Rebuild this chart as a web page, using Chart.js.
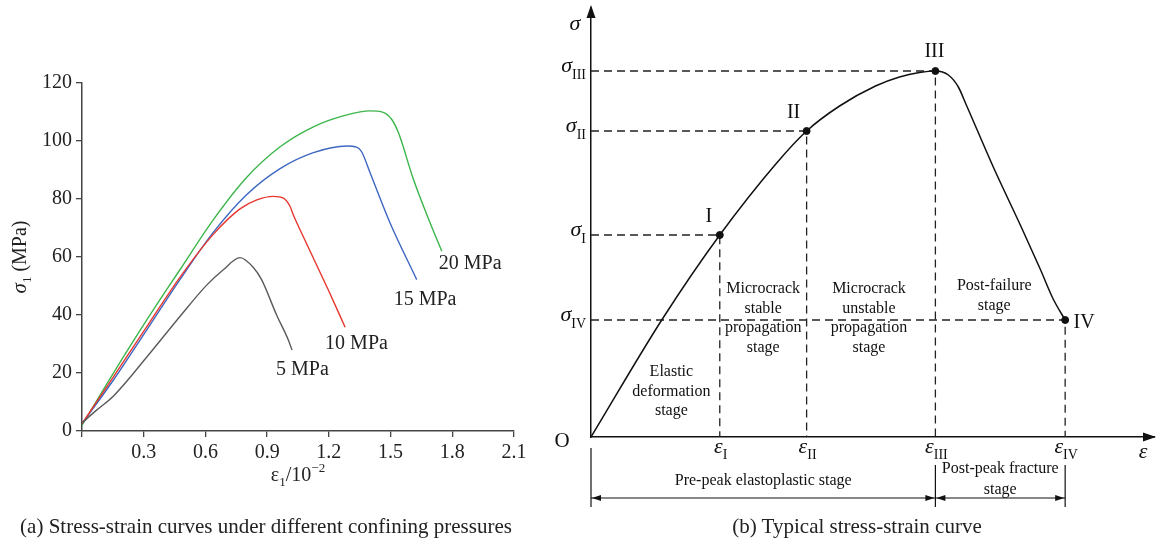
<!DOCTYPE html>
<html lang="en">
<head>
<meta charset="UTF-8">
<title>Stress-strain curves</title>
<script src="https://cdn.jsdelivr.net/npm/chart.js"></script>
<style>
  body { margin: 0; background: #fff; }
  #page { position: relative; width: 1159px; height: 547px; overflow: hidden;
          font-family: "Liberation Serif", "DejaVu Serif", serif; }
  canvas { position: absolute; top: 0; }
  #chartA { left: 0; }
  #chartB { left: 540px; }
  .caption { position: absolute; top: 514px; font-size: 21px; color: #222;
             white-space: nowrap; transform: translateX(-50%); }
</style>
</head>
<body>
<div id="page">
  <canvas id="chartA" width="540" height="547"></canvas>
  <canvas id="chartB" width="619" height="547"></canvas>
  <div class="caption" style="left:266px">(a) Stress-strain curves under different confining pressures</div>
  <div class="caption" style="left:857px">(b) Typical stress-strain curve</div>
</div>

<script>
const FONT = '"Liberation Serif", "DejaVu Serif", serif';

// ---- panel (a): strain in 10^-2, stress in MPa
const xTicksA = [0, 0.3, 0.6, 0.9, 1.2, 1.5, 1.8, 2.1];
const yTicksA = [0, 20, 40, 60, 80, 100, 120];
const seriesNames = ['5 MPa', '10 MPa', '15 MPa', '20 MPa'];

const strain5  = [0, 0.071, 0.152, 0.315, 0.476, 0.606, 0.687, 0.768, 0.833, 0.873, 0.946, 1.003, 1.021];
const stress5  = [2.8, 7.2, 12.0, 25.5, 39.5, 50.3, 55.6, 59.8, 56.4, 52.2, 40.0, 31.4, 27.9];

const strain10 = [0, 0.152, 0.315, 0.476, 0.638, 0.768, 0.85, 0.93, 0.979, 1.011, 1.027, 1.06, 1.197, 1.279];
const stress10 = [2.5, 18.6, 36.0, 53.0, 67.8, 76.6, 79.7, 80.9, 80.3, 77.5, 74.6, 69.4, 48.7, 35.8];

const strain15 = [0, 0.152, 0.315, 0.476, 0.638, 0.80, 0.963, 1.125, 1.287, 1.335, 1.36, 1.40, 1.497, 1.627];
const stress15 = [2.5, 17.5, 34.9, 52.2, 68.5, 81.5, 90.5, 96.0, 98.3, 97.9, 96.2, 89.1, 71.8, 52.2];

const strain20 = [0, 0.152, 0.315, 0.476, 0.638, 0.80, 0.963, 1.125, 1.287, 1.40, 1.464, 1.505, 1.538, 1.611, 1.692, 1.749];
const stress20 = [2.0, 19.9, 38.3, 55.6, 72.8, 87.4, 98.0, 104.9, 109.0, 110.4, 109.9, 107.5, 102.9, 86.8, 71.8, 62.0];

// ---- panel (b): schematic curve, arbitrary units
const stageNames = ['I', 'II', 'III', 'IV'];
const epsKey = [1.29, 2.16, 3.45, 4.75];
const sigKey = [2.02, 3.06, 3.66, 1.17];
const curveEps = [0, 0.715, 1.29, 1.86, 2.16, 2.49, 2.85, 3.09, 3.29, 3.45, 3.58, 3.68, 3.76, 4.03, 4.31, 4.50, 4.63, 4.75];
const curveSig = [0, 1.18, 2.02, 2.74, 3.06, 3.31, 3.51, 3.60, 3.645, 3.66, 3.62, 3.50, 3.32, 2.70, 2.10, 1.68, 1.38, 1.17];
const stageText = [
  ['Elastic', 'deformation', 'stage'],
  ['Microcrack', 'stable', 'propagation', 'stage'],
  ['Microcrack', 'unstable', 'propagation', 'stage'],
  ['Post-failure', 'stage']
];

// layout bits (pixels)
const seriesColors = ['#5a5a5a', '#e8372f', '#3d67c2', '#3cb54b'];
const labelOffsetsA = [[-16, 20], [-20, 17], [-23, 20], [-3, 13]];
const romanOffsets = [[-11, -18], [-13, -18], [-1, -19], [19, 3]];

function drawGroup(ctx, parts, x, y, align) {
  let w = 0;
  parts.forEach(p => { ctx.font = p.font; p.w = ctx.measureText(p.t).width; w += p.w; });
  let cx = align === 'center' ? x - w / 2 : align === 'right' ? x - w : x;
  ctx.textAlign = 'left';
  ctx.textBaseline = 'alphabetic';
  parts.forEach(p => { ctx.font = p.font; ctx.fillText(p.t, cx, y + (p.dy || 0)); cx += p.w; });
}

function arrowHead(ctx, tx, ty, dx, dy, len, half) {
  const bx = tx - dx * len, by = ty - dy * len;
  ctx.beginPath();
  ctx.moveTo(tx, ty);
  ctx.lineTo(bx - dy * half, by + dx * half);
  ctx.lineTo(bx + dy * half, by - dx * half);
  ctx.closePath();
  ctx.fill();
}

function seg(ctx, x1, y1, x2, y2) {
  ctx.beginPath(); ctx.moveTo(x1, y1); ctx.lineTo(x2, y2); ctx.stroke();
}

// ---------- chart (a)
const curvesA = [[strain5, stress5], [strain10, stress10], [strain15, stress15], [strain20, stress20]];

const annotateA = {
  id: 'annotateA',
  afterDraw(chart) {
    const { ctx, chartArea: a, scales: { x, y } } = chart;
    ctx.save();
    ctx.fillStyle = '#222';
    curvesA.forEach((c, i) => {
      const n = c[0].length - 1;
      const px = x.getPixelForValue(c[0][n]) + labelOffsetsA[i][0];
      const py = y.getPixelForValue(c[1][n]) + labelOffsetsA[i][1];
      ctx.font = '20px ' + FONT;
      ctx.textAlign = 'left';
      ctx.textBaseline = 'middle';
      ctx.fillText(seriesNames[i], px, py);
    });
    // x title
    drawGroup(ctx, [
      { t: 'ε', font: '20px ' + FONT },
      { t: '1', font: '13px ' + FONT, dy: 5 },
      { t: '/10', font: '20px ' + FONT },
      { t: '−2', font: '13px ' + FONT, dy: -9 }
    ], (a.left + a.right) / 2, a.bottom + 50, 'center');
    // y title
    ctx.translate(19, (a.top + a.bottom) / 2);
    ctx.rotate(-Math.PI / 2);
    drawGroup(ctx, [
      { t: 'σ', font: 'italic 21px ' + FONT },
      { t: '1', font: '13px ' + FONT, dy: 5 },
      { t: ' (MPa)', font: '20px ' + FONT }
    ], 0, 7, 'center');
    ctx.restore();
  }
};

new Chart(document.getElementById('chartA'), {
  type: 'scatter',
  data: {
    datasets: curvesA.map((c, i) => ({
      label: seriesNames[i],
      data: c[0].map((v, k) => ({ x: v, y: c[1][k] })),
      showLine: true,
      borderColor: seriesColors[i],
      borderWidth: 1.4,
      pointRadius: 0,
      cubicInterpolationMode: 'monotone',
      fill: false
    }))
  },
  options: {
    responsive: false,
    animation: false,
    layout: { padding: { top: 83, right: 26, bottom: 56, left: 0 } },
    plugins: { legend: { display: false }, tooltip: { enabled: false } },
    scales: {
      x: {
        type: 'linear', min: 0, max: 2.1,
        afterBuildTicks: s => { s.ticks = xTicksA.map(v => ({ value: v })); },
        afterFit: s => { s.height = 60; },
        ticks: { callback: v => v === 0 ? '' : v.toFixed(1), font: { family: FONT, size: 20 },
                 color: '#222', padding: 4, maxRotation: 0, autoSkip: false },
        grid: { drawOnChartArea: false, tickLength: 6, color: '#444', lineWidth: 1.3 },
        border: { color: '#444', width: 1.5 }
      },
      y: {
        type: 'linear', min: 0, max: 120,
        afterBuildTicks: s => { s.ticks = yTicksA.map(v => ({ value: v })); },
        afterFit: s => { s.width = 82; },
        ticks: { font: { family: FONT, size: 20 }, color: '#222', padding: 4 },
        grid: { drawOnChartArea: false, tickLength: 6, color: '#444', lineWidth: 1.3 },
        border: { color: '#444', width: 1.5 }
      }
    }
  },
  plugins: [annotateA]
});

// ---------- chart (b)
const guides = epsKey.map((e, k) => [
  { x: 0, y: sigKey[k] }, { x: e, y: sigKey[k] }, { x: e, y: 0 }
]);

const annotateB = {
  id: 'annotateB',
  afterDraw(chart) {
    const { ctx, chartArea: a, scales: { x, y } } = chart;
    ctx.save();
    ctx.fillStyle = '#111';
    ctx.strokeStyle = '#111';

    // axis arrows
    arrowHead(ctx, a.left, a.top - 3, 0, -1, 13, 4.5);
    arrowHead(ctx, a.right + 2, a.bottom, 1, 0, 13, 4.5);

    // axis names
    drawGroup(ctx, [{ t: 'σ', font: 'italic 22px ' + FONT }], a.left - 16, a.top + 22, 'center');
    drawGroup(ctx, [{ t: 'ε', font: 'italic 22px ' + FONT }], a.right - 11, a.bottom + 21, 'center');
    drawGroup(ctx, [{ t: 'O', font: '21px ' + FONT }], a.left - 29, a.bottom + 10, 'center');

    // sigma / epsilon labels at key values
    stageNames.forEach((nm, k) => {
      drawGroup(ctx, [
        { t: 'σ', font: 'italic 22px ' + FONT },
        { t: nm, font: '14px ' + FONT, dy: 7 }
      ], a.left - 5, y.getPixelForValue(sigKey[k]) + 1, 'right');
      drawGroup(ctx, [
        { t: 'ε', font: 'italic 22px ' + FONT },
        { t: nm, font: '14px ' + FONT, dy: 6 }
      ], x.getPixelForValue(epsKey[k]) + 1, a.bottom + 16, 'center');
      // roman numeral near each point
      ctx.font = '20px ' + FONT;
      ctx.textAlign = 'center';
      ctx.textBaseline = 'middle';
      ctx.fillText(nm, x.getPixelForValue(epsKey[k]) + romanOffsets[k][0],
                   y.getPixelForValue(sigKey[k]) + romanOffsets[k][1]);
    });

    // stage descriptions
    const px = [0, ...epsKey].map(v => x.getPixelForValue(v));
    const centers = [
      [(px[0] + px[1]) / 2 + 16, a.bottom - 65],
      [(px[1] + px[2]) / 2, a.bottom - 148],
      [(px[2] + px[3]) / 2 - 2, a.bottom - 148],
      [(px[3] + px[4]) / 2 - 6, a.bottom - 151]
    ];
    ctx.font = '16px ' + FONT;
    ctx.textAlign = 'center';
    ctx.textBaseline = 'middle';
    stageText.forEach((lines, i) => {
      lines.forEach((ln, j) => ctx.fillText(ln, centers[i][0], centers[i][1] + j * 19.5));
    });

    // dimension lines under the axis
    const yb = a.bottom;
    const x0 = px[0], x3 = px[3], x4 = px[4];
    ctx.lineWidth = 1.2;
    seg(ctx, x0, yb + 11, x0, yb + 70);
    seg(ctx, x3, yb + 28, x3, yb + 70);
    seg(ctx, x4, yb + 28, x4, yb + 70);
    const yd = yb + 61;
    seg(ctx, x0, yd, x4, yd);
    arrowHead(ctx, x0 + 1, yd, -1, 0, 9, 3);
    arrowHead(ctx, x3 - 1, yd, 1, 0, 9, 3);
    arrowHead(ctx, x3 + 1, yd, -1, 0, 9, 3);
    arrowHead(ctx, x4 - 1, yd, 1, 0, 9, 3);
    ctx.font = '16px ' + FONT;
    ctx.fillText('Pre-peak elastoplastic stage', (x0 + x3) / 2, yb + 44);
    ctx.fillText('Post-peak fracture', (x3 + x4) / 2, yb + 32);
    ctx.fillText('stage', (x3 + x4) / 2, yb + 53);
    ctx.restore();
  }
};

new Chart(document.getElementById('chartB'), {
  type: 'scatter',
  data: {
    datasets: [
      {
        label: 'key points',
        data: epsKey.map((e, k) => ({ x: e, y: sigKey[k] })),
        showLine: false, pointRadius: 3.5,
        pointBackgroundColor: '#111', pointBorderColor: '#111'
      },
      {
        label: 'curve',
        data: curveEps.map((e, k) => ({ x: e, y: curveSig[k] })),
        showLine: true, borderColor: '#111', borderWidth: 1.5,
        pointRadius: 0, cubicInterpolationMode: 'monotone'
      },
      ...guides.map((g, k) => ({
        label: 'guide ' + stageNames[k],
        data: g,
        showLine: true, borderColor: '#222', borderWidth: 1.3,
        borderDash: [8, 5], pointRadius: 0, tension: 0
      }))
    ]
  },
  options: {
    responsive: false,
    animation: false,
    layout: { padding: { top: 8, right: 4, bottom: 70, left: 0 } },
    plugins: { legend: { display: false }, tooltip: { enabled: false } },
    scales: {
      x: {
        type: 'linear', min: 0, max: 5.64,
        afterFit: s => { s.height = 40; },
        ticks: { display: false },
        grid: { drawOnChartArea: false, drawTicks: false },
        border: { color: '#111', width: 1.5 }
      },
      y: {
        type: 'linear', min: 0, max: 4.29,
        afterFit: s => { s.width = 51; },
        ticks: { display: false },
        grid: { drawOnChartArea: false, drawTicks: false },
        border: { color: '#111', width: 1.5 }
      }
    }
  },
  plugins: [annotateB]
});
</script>
</body>
</html>
